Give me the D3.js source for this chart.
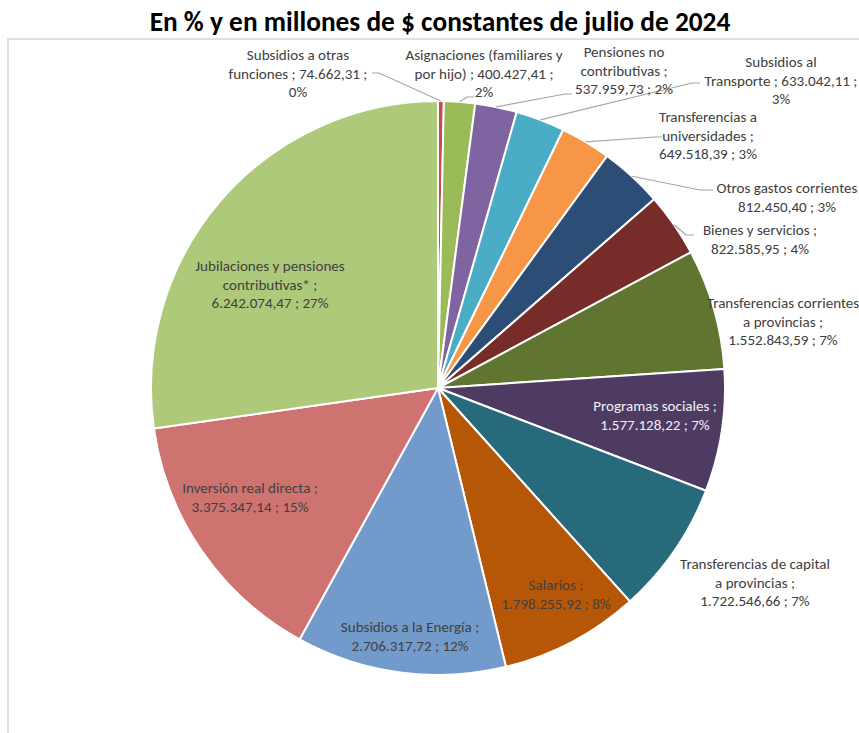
<!DOCTYPE html>
<html>
<head>
<meta charset="utf-8">
<script src="https://cdn.jsdelivr.net/npm/d3@7"></script>
<style>
html,body{margin:0;padding:0;background:#fff;}
svg{display:block;}
</style>
</head>
<body>
<svg id="chart" width="859" height="733"></svg>
<script>
// ---------- DATA ----------
const title = "En % y en millones de $ constantes de julio de 2024";
const categories = [
  "Subsidios a otras funciones",
  "Asignaciones (familiares y por hijo)",
  "Pensiones no contributivas",
  "Subsidios al Transporte",
  "Transferencias a universidades",
  "Otros gastos corrientes",
  "Bienes y servicios",
  "Transferencias corrientes a provincias",
  "Programas sociales",
  "Transferencias de capital a provincias",
  "Salarios",
  "Subsidios a la Energía",
  "Inversión real directa",
  "Jubilaciones y pensiones contributivas*"
];
const values = [74662.31, 400427.41, 537959.73, 633042.11, 649518.39, 812450.40, 822585.95,
  1552843.59, 1577128.22, 1722546.66, 1798255.92, 2706317.72, 3375347.14, 6242074.47];
const pctLabels = ["0%","2%","2%","3%","3%","3%","4%","7%","7%","7%","8%","12%","15%","27%"];
const labelTemplates = [
  ["Subsidios a otras", "funciones ;  {v} ;", "{p}"],
  ["Asignaciones (familiares y", "por hijo) ;  {v} ;", "{p}"],
  ["Pensiones no", "contributivas ;", "{v} ; {p}"],
  ["Subsidios al", "Transporte ;  {v} ;", "{p}"],
  ["Transferencias a", "universidades ;", "{v} ; {p}"],
  ["Otros gastos corrientes", "{v} ; {p}"],
  ["Bienes y servicios ;", "{v} ; {p}"],
  ["Transferencias corrientes", "a provincias ;", "{v} ; {p}"],
  ["Programas sociales ;", "{v} ; {p}"],
  ["Transferencias de capital", "a provincias ;", "{v} ; {p}"],
  ["Salarios ;", "{v} ; {p}"],
  ["Subsidios a la Energía ;", "{v} ; {p}"],
  ["Inversión real directa ;", "{v} ; {p}"],
  ["Jubilaciones y pensiones", "contributivas* ;", "{v} ; {p}"]
];
const colors = ["#c0504d","#9bbb59","#8064a2","#4bacc6","#f79646","#2c4d75","#772c2a",
  "#5f7530","#4d3b62","#276a7c","#b65708","#729aca","#cf7371","#afc97a"];

// ---------- LAYOUT ----------
const W = 859, H = 733;
const cx = 438, cy = 388, R = 287;
const lineH = 18.3;
// label block: centre x, first line centre y
const labelPos = [
  [298,55],[484,55],[624,52],[781,62],[708,117],[787,188],[760,230],
  [783,303],[655,406],[755,564],[556,585],[410,627],[250,488],[270,266]
];
// leader lines: [elbow, end] (null = no leader)
const leaders = [
  [[379,73],[372,73]],
  [[467,97],[474,97]],
  [[565,94],[572,94]],
  [[692,83],[700,83]],
  [[655,137],[662,137]],
  [[700,190],[713,190]],
  [[686,235],[694,235]],
  null,null,null,null,null,null,null
];
const textColors = categories.map((c,i) => i === 8 ? "#f2f2f2" : "#404040");

const fontStack = "Carlito, Calibri, Lato, 'Liberation Sans Narrow', sans-serif";
const svg = d3.select("#chart");

// border
svg.append("path")
  .attr("d", `M8,${H} V39 H${W}`)
  .attr("fill", "none")
  .attr("stroke", "#e0e0e0")
  .attr("stroke-width", 2);

// fit font sizes by measuring
function fitSize(text, weight, target, base) {
  const t = svg.append("text").attr("font-family", fontStack)
    .attr("font-weight", weight).attr("font-size", base).text(text);
  const w = t.node().getComputedTextLength();
  t.remove();
  return base * target / w;
}
const labelSize = fitSize("Transferencias de capital", "normal", 150, 13);
const titleSize = fitSize(title, "bold", 581, 24);

// title
svg.append("text")
  .attr("x", 440).attr("y", 21)
  .attr("dy", "0.35em")
  .attr("text-anchor", "middle")
  .attr("font-family", fontStack)
  .attr("font-weight", "bold")
  .attr("font-size", titleSize)
  .attr("fill", "#000")
  .text(title);

// pie
const pie = d3.pie().sort(null).value(d => d)(values);
const arc = d3.arc().innerRadius(0).outerRadius(R);
const g = svg.append("g").attr("transform", `translate(${cx},${cy})`);
g.selectAll("path.slice").data(pie).join("path")
  .attr("class", "slice")
  .attr("d", arc)
  .attr("fill", (d,i) => colors[i])
  .attr("stroke", "#fff")
  .attr("stroke-width", 2)
  .attr("stroke-linejoin", "round");

// leader lines
const fmt = d3.formatLocale({decimal: ",", thousands: ".", grouping: [3], currency: ["$",""]}).format(",.2f");
pie.forEach((d,i) => {
  if (!leaders[i]) return;
  const a = (d.startAngle + d.endAngle) / 2;
  const p0 = [cx + R * Math.sin(a), cy - R * Math.cos(a)];
  svg.append("polyline")
    .attr("points", [p0, leaders[i][0], leaders[i][1]].map(p => p.join(",")).join(" "))
    .attr("fill", "none")
    .attr("stroke", "#a6a6a6")
    .attr("stroke-width", 1.2);
});

// labels
labelTemplates.forEach((tpl, i) => {
  const lines = tpl.map(s => s.replace("{v}", fmt(values[i])).replace("{p}", pctLabels[i]));
  const t = svg.append("text")
    .attr("text-anchor", "middle")
    .attr("font-family", fontStack)
    .attr("font-size", labelSize)
    .attr("fill", textColors[i]);
  lines.forEach((ln, k) => {
    t.append("tspan")
      .attr("x", labelPos[i][0])
      .attr("y", labelPos[i][1] + k * lineH)
      .attr("dy", "0.35em")
      .text(ln);
  });
});
</script>
</body>
</html>
